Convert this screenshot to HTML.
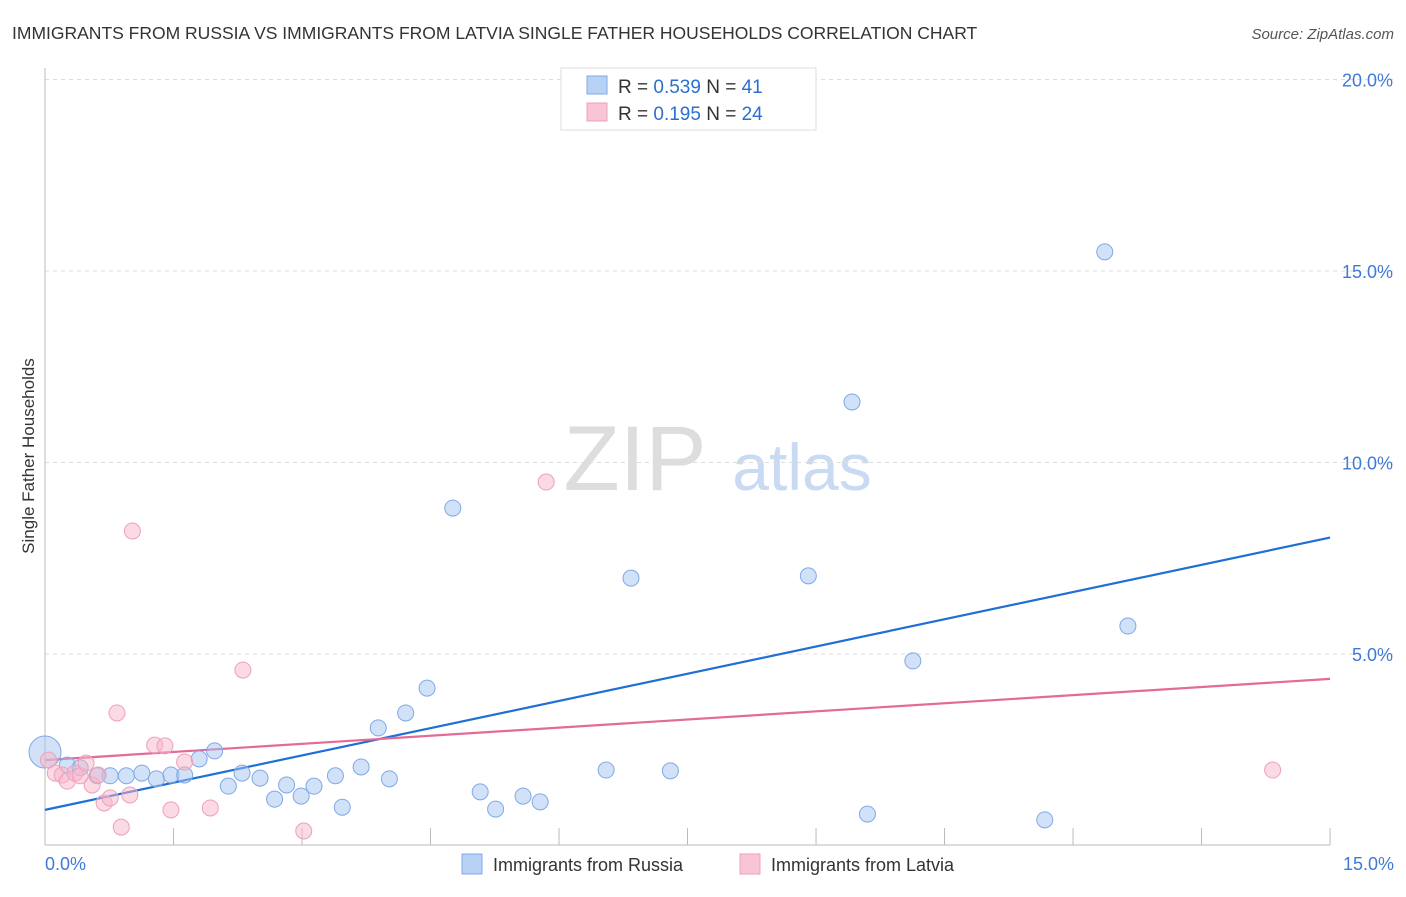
<!DOCTYPE html>
<html><head><meta charset="utf-8"><style>
body{margin:0;background:#fff;font-family:"Liberation Sans",sans-serif;}
svg text{font-family:"Liberation Sans",sans-serif;}
</style></head><body>
<svg id="chart" width="1406" height="892" xmlns="http://www.w3.org/2000/svg">
<text x="12" y="39" font-size="17.5" fill="#333">IMMIGRANTS FROM RUSSIA VS IMMIGRANTS FROM LATVIA SINGLE FATHER HOUSEHOLDS CORRELATION CHART</text>
<text x="1394" y="39" font-size="15" fill="#555" text-anchor="end" font-style="italic">Source: ZipAtlas.com</text>
<text transform="translate(34,456) rotate(-90)" font-size="17" fill="#333" text-anchor="middle">Single Father Households</text>
<g>
<text x="635" y="490" font-size="92" fill="#ddd" text-anchor="middle" font-family="Liberation Serif,serif">ZIP</text>
<text x="802" y="490" font-size="66" fill="#c9daf3" text-anchor="middle">atlas</text>
</g>
<g id="grid"></g><g id="axes"></g><g id="lines"></g><g id="pts"></g>
<g>
<rect x="561" y="68" width="255" height="62" fill="#fff" stroke="#ddd"/>
<rect x="587" y="76" width="20" height="18" fill="#b8d2f5" stroke="#7fa9e6"/>
<text x="618" y="93" font-size="19" fill="#333">R = <tspan fill="#2b6fd1">0.539</tspan>   N = <tspan fill="#2b6fd1">41</tspan></text>
<rect x="587" y="103" width="20" height="18" fill="#f9c5d5" stroke="#eea0ba"/>
<text x="618" y="120" font-size="19" fill="#333">R =  <tspan fill="#2b6fd1">0.195</tspan>   N = <tspan fill="#2b6fd1">24</tspan></text>
</g>
<g>
<rect x="462" y="854" width="20" height="20" fill="#b8d2f5" stroke="#7fa9e6"/>
<text x="493" y="871" font-size="18" fill="#333">Immigrants from Russia</text>
<rect x="740" y="854" width="20" height="20" fill="#f9c5d5" stroke="#eea0ba"/>
<text x="771" y="871" font-size="18" fill="#333">Immigrants from Latvia</text>
</g>
</svg>
<script>
const russiaX=[0,0.26,0.41,0.61,0.76,0.95,1.13,1.30,1.47,1.63,1.80,1.98,2.14,2.30,2.51,2.68,2.82,2.99,3.14,3.39,3.47,3.69,3.89,4.02,4.21,4.46,4.76,5.08,5.26,5.58,5.78,6.55,6.84,7.30,8.91,9.42,9.60,10.13,11.67,12.37,12.64];
const russiaY=[2.44,2.10,2.03,1.82,1.82,1.82,1.89,1.74,1.84,1.84,2.26,2.47,1.55,1.89,1.76,1.21,1.58,1.29,1.55,1.82,1.00,2.05,3.07,1.74,3.46,4.11,8.81,1.40,0.95,1.29,1.14,1.97,6.98,1.95,7.04,11.58,0.82,4.82,0.67,15.50,5.73];
const latviaX=[0.04,0.12,0.20,0.26,0.35,0.41,0.48,0.55,0.62,0.69,0.76,0.84,0.89,0.99,1.02,1.28,1.40,1.47,1.63,1.93,2.31,3.02,5.85,14.33];
const latviaY=[2.23,1.89,1.84,1.68,1.89,1.82,2.15,1.58,1.84,1.11,1.24,3.46,0.48,1.32,8.21,2.62,2.60,0.93,2.18,0.98,4.58,0.38,9.49,1.97];
const russiaTrend=[0.93,8.04];
const latviaTrend=[2.23,4.35];
const trendX=[0,15];
const yTicks=[5,10,15,20];
const yTickLabels=["5.0%","10.0%","15.0%","20.0%"];
const xTicks=[0,1.5,3,4.5,6,7.5,9,10.5,12,13.5,15];
const NS="http://www.w3.org/2000/svg";
const sx=v=>45+v*85.67, sy=v=>845.5-v*38.3;
function mk(parent,tag,attrs){const e=document.createElementNS(NS,tag);for(const k in attrs)e.setAttribute(k,attrs[k]);document.getElementById(parent).appendChild(e);return e;}
yTicks.forEach((t,i)=>{
 const g=mk('grid','line',{x1:45,x2:1394,y1:sy(t),y2:sy(t),stroke:'#ddd','stroke-dasharray':'4,4'});
 
 
 const l=mk('axes','text',{x:1393,y:sy(t)+7,'font-size':18,fill:'#3f7ad6','text-anchor':'end'});
 l.textContent=yTickLabels[i];
 
 
});
const ax=mk('axes','line',{x1:45,x2:45,y1:68,y2:845,stroke:'#bbb'});


const bx=mk('axes','line',{x1:45,x2:1330,y1:845,y2:845,stroke:'#bbb'});


xTicks.forEach(t=>{
 const k=mk('axes','line',{x1:sx(t),x2:sx(t),y1:828,y2:845,stroke:'#bbb'});
 
 
});
[[0,"0.0%",'start',45],[15,"15.0%",'end',1394]].forEach(a=>{
 const l=mk('axes','text',{x:a[3],y:870,'font-size':18,fill:'#3f7ad6','text-anchor':a[2]});
 l.textContent=a[1];
 
 
});
function pts(X,Y,fill,stroke,name){X.forEach((x,i)=>{
 const c=mk('pts','circle',{cx:sx(x),cy:sy(Y[i]),r:(i==0&&name=='russia-point')?16:8,fill:fill,stroke:stroke,'stroke-width':1});
 
 
});}
pts(russiaX,russiaY,'rgba(164,196,240,0.5)','#7fa9e6','russia-point');
pts(latviaX,latviaY,'rgba(248,182,202,0.5)','#eea0ba','latvia-point');
const rl=mk('lines','line',{x1:sx(trendX[0]),x2:sx(trendX[1]),y1:sy(russiaTrend[0]),y2:sy(russiaTrend[1]),stroke:'#1f6fd6','stroke-width':2.2});


const ll=mk('lines','line',{x1:sx(trendX[0]),x2:sx(trendX[1]),y1:sy(latviaTrend[0]),y2:sy(latviaTrend[1]),stroke:'#e46a97','stroke-width':2.2});


</script>
</body></html>
